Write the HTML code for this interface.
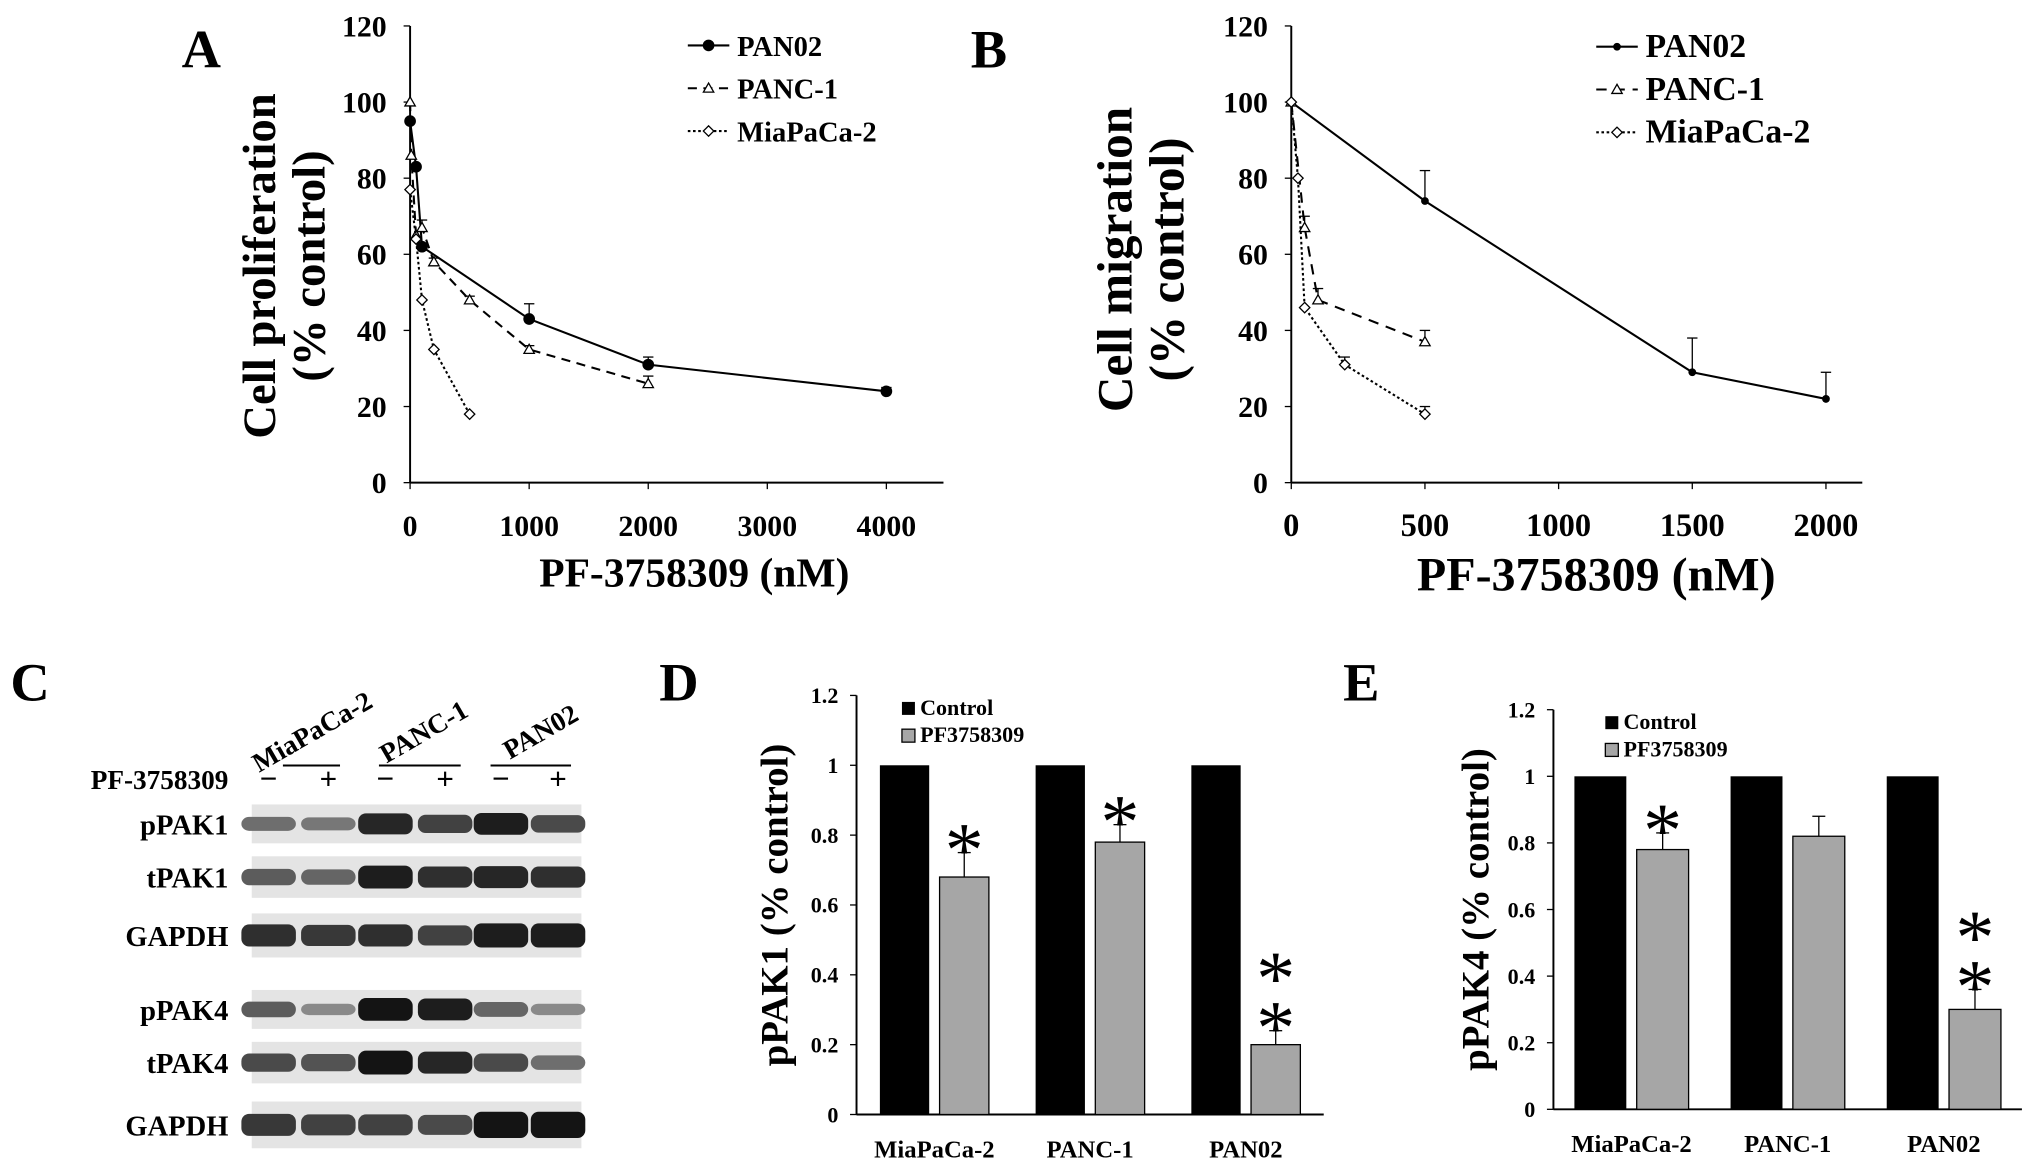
<!DOCTYPE html>
<html><head><meta charset="utf-8"><style>
html,body{margin:0;padding:0;background:#fff;}
svg{display:block;font-family:"Liberation Serif",serif;font-weight:bold;}
</style></head><body>
<svg id="fig" width="2031" height="1169" viewBox="0 0 1565 901" preserveAspectRatio="none" xmlns="http://www.w3.org/2000/svg">
<rect width="1565" height="901" fill="#fff"/>
<text x="140" y="52" font-size="42">A</text>
<text x="748" y="52" font-size="42">B</text>
<text x="8" y="540" font-size="42">C</text>
<text x="508" y="540" font-size="42">D</text>
<text x="1035" y="540" font-size="42">E</text>
<g id="gA"></g><g id="gB"></g><g id="gC"></g><g id="gD"></g><g id="gE"></g>
</svg>
<script>
// Panel A data
const aPan02X=[0,50,100,1000,2000,4000];
const aPan02Y=[95,83,62,43,31,24];
const aPan02E=[0,0,0,4,2,1];
const aPanc1X=[0,10,50,100,200,500,1000,2000];
const aPanc1Y=[100,86,65,67,58,48,35,26];
const aPanc1E=[0,0,0,2,1,1,1,2];
const aMiaX=[0,50,100,200,500];
const aMiaY=[77,64,48,35,18];
const aMiaE=[0,0,0,0,0];
const aXTicks=[0,1000,2000,3000,4000];
const yTicks=[0,20,40,60,80,100,120];
// Panel B data
const bPan02X=[0,500,1500,2000];
const bPan02Y=[100,74,29,22];
const bPan02E=[0,8,9,7];
const bPanc1X=[0,50,100,500];
const bPanc1Y=[100,67,48,37];
const bPanc1E=[0,3,3,3];
const bMiaX=[0,25,50,200,500];
const bMiaY=[100,80,46,31,18];
const bMiaE=[0,0,0,2,2];
const bXTicks=[0,500,1000,1500,2000];
// Panel D/E data
const barGroups=["MiaPaCa-2","PANC-1","PAN02"];
const dControl=[1,1,1];
const dTreated=[0.68,0.78,0.2];
const dErr=[0.07,0.05,0.04];
const dStars=[1,1,2];
const eControl=[1,1,1];
const eTreated=[0.78,0.82,0.3];
const eErr=[0.05,0.06,0.06];
const eStars=[1,0,2];
const barTicks=[0,0.2,0.4,0.6,0.8,1,1.2];

const NS="http://www.w3.org/2000/svg";
function mk(p,t,a,txt){const e=document.createElementNS(NS,t);for(const k in a)e.setAttribute(k,a[k]);if(txt!==undefined)e.textContent=txt;p.appendChild(e);return e;}

function lineChart(g,o){
  const sx=v=>o.x0+(v-0)/o.xmax*(o.x1-o.x0);
  const sy=v=>o.y0-v/120*(o.y0-o.y1);
  let ax=mk(g,'line',{x1:o.x0,y1:o.y0,x2:o.xend,y2:o.y0,stroke:'#000','stroke-width':1.5});
  
  ax=mk(g,'line',{x1:o.x0,y1:o.y0,x2:o.x0,y2:o.y1,stroke:'#000','stroke-width':1.5});
  
  yTicks.forEach(v=>{mk(g,'line',{x1:o.x0-5,x2:o.x0,y1:sy(v),y2:sy(v),stroke:'#000'});
    const t=mk(g,'text',{x:o.x0-18,y:sy(v)+8,'font-size':23,'text-anchor':'end'},v);
    });
  o.xt.forEach(v=>{mk(g,'line',{x1:sx(v),x2:sx(v),y1:o.y0,y2:o.y0+5,stroke:'#000'});
    const t=mk(g,'text',{x:sx(v),y:o.y0+41,'font-size':o.tfs,'text-anchor':'middle'},v);
    });
  let t=mk(g,'text',{x:o.xtc,y:o.xty,'font-size':o.xfs,'text-anchor':'middle'},'PF-3758309 (nM)');
  
  o.yt.forEach((s,i)=>{const tt=mk(g,'text',{transform:`translate(${o.ytx[i]},${o.yty}) rotate(-90)`,'font-size':o.yfs,'text-anchor':'middle'},s);
    });
  o.series.forEach((s,si)=>{
    const pts=s.x.map((v,i)=>sx(v)+','+sy(s.y[i])).join(' ');
    const pl=mk(g,'polyline',{points:pts,fill:'none',stroke:'#000','stroke-width':1.6,'stroke-dasharray':s.dash});
    
    s.x.forEach((v,i)=>{const cx=sx(v),cy=sy(s.y[i]);
      if(s.e[i]>0){mk(g,'line',{x1:cx,x2:cx,y1:cy,y2:sy(s.y[i]+s.e[i]),stroke:'#000'});mk(g,'line',{x1:cx-4,x2:cx+4,y1:sy(s.y[i]+s.e[i]),y2:sy(s.y[i]+s.e[i]),stroke:'#000'});}
      const m=marker(g,s.mk,cx,cy);});
    const ly=o.ly[si];
    mk(g,'line',{x1:o.lx,x2:o.lx+32,y1:ly,y2:ly,stroke:'#000','stroke-width':1.6,'stroke-dasharray':s.dash});
    marker(g,s.mk,o.lx+16,ly);
    const lt=mk(g,'text',{x:o.lx+38,y:ly+8,'font-size':o.lfs},s.name);
    
  });
}
function marker(g,m,x,y){
  if(m==='dot')return mk(g,'circle',{cx:x,cy:y,r:4.5,fill:'#000'});
  if(m==='sdot')return mk(g,'circle',{cx:x,cy:y,r:3,fill:'#000'});
  if(m==='tri')return mk(g,'polygon',{points:`${x},${y-4} ${x-4},${y+3} ${x+4},${y+3}`,fill:'#fff',stroke:'#000'});
  return mk(g,'polygon',{points:`${x},${y-4} ${x+4},${y} ${x},${y+4} ${x-4},${y}`,fill:'#fff',stroke:'#000'});
}
lineChart(document.getElementById('gA'),{x0:316,x1:683,xend:727,xmax:4000,y0:372,y1:20,xt:aXTicks,tfs:23,xtc:535,xty:452,xfs:32,
 yt:['Cell proliferation','(% control)'],ytx:[212,250],yty:205,yfs:36,lx:530,ly:[35,68,101],lfs:22,
 series:[{name:'PAN02',x:aPan02X,y:aPan02Y,e:aPan02E,dash:'',mk:'dot'},
 {name:'PANC-1',x:aPanc1X,y:aPanc1Y,e:aPanc1E,dash:'7,5',mk:'tri'},
 {name:'MiaPaCa-2',x:aMiaX,y:aMiaY,e:aMiaE,dash:'2,2',mk:'dia'}]});
lineChart(document.getElementById('gB'),{x0:995,x1:1407,xend:1435,xmax:2000,y0:372,y1:20,xt:bXTicks,tfs:25,xtc:1230,xty:455,xfs:37,
 yt:['Cell migration','(% control)'],ytx:[872,912],yty:200,yfs:38,lx:1230,ly:[36,69,102],lfs:26,
 series:[{name:'PAN02',x:bPan02X,y:bPan02Y,e:bPan02E,dash:'',mk:'sdot'},
 {name:'PANC-1',x:bPanc1X,y:bPanc1Y,e:bPanc1E,dash:'8,6',mk:'tri'},
 {name:'MiaPaCa-2',x:bMiaX,y:bMiaY,e:bMiaE,dash:'2,2',mk:'dia'}]});

// Panel C blot
(function(){
 const g=document.getElementById('gC');
 const rows=[['pPAK1',620,30,[0.5,0.45,0.9,0.75,0.95,0.7]],['tPAK1',660,32,[0.6,0.55,0.95,0.85,0.9,0.85]],['GAPDH',704,34,[0.85,0.8,0.85,0.75,0.95,0.95]],
  ['pPAK4',763,30,[0.6,0.35,1,0.95,0.55,0.35]],['tPAK4',803,32,[0.7,0.65,1,0.9,0.7,0.5]],['GAPDH',849,36,[0.8,0.75,0.75,0.7,1,1]]];
 const lanes=[207,253,297,343,386,430];
 rows.forEach(r=>{
  const box=mk(g,'rect',{x:194,y:r[1],width:254,height:r[2],fill:'#e4e4e4'});
  
  lanes.forEach((c,i)=>{const h=r[2]*0.45*r[3][i]+4;const v=Math.round(200-180*r[3][i]);
   mk(g,'rect',{x:c-21,y:r[1]+r[2]/2-h/2,width:42,height:h,rx:6,fill:`rgb(${v},${v},${v})`});});
  const t=mk(g,'text',{x:176,y:r[1]+r[2]/2+8,'font-size':22,'text-anchor':'end'},r[0]);
  
 });
 let t=mk(g,'text',{x:176,y:608,'font-size':21,'text-anchor':'end'},'PF-3758309');
 
 ['−','+','−','+','−','+'].forEach((s,i)=>mk(g,'text',{x:lanes[i],y:608,'font-size':24,'text-anchor':'middle'},s));
 [['MiaPaCa-2',244,218,262],['PANC-1',330,292,355],['PAN02',420,378,440]].forEach(c=>{
  const tt=mk(g,'text',{transform:`translate(${c[1]},570) rotate(-30)`,'font-size':21,'text-anchor':'middle'},c[0]);
  
  mk(g,'line',{x1:c[2],x2:c[3],y1:590,y2:590,stroke:'#000','stroke-width':1.5});});
})();

function barChart(g,o){
 const sy=v=>o.y0-v/1.2*(o.y0-o.y1);
 let a=mk(g,'line',{x1:o.x0,y1:o.y0,x2:o.xend,y2:o.y0,stroke:'#000','stroke-width':1.5});
 
 a=mk(g,'line',{x1:o.x0,y1:o.y0,x2:o.x0,y2:o.y1,stroke:'#000','stroke-width':1.5});
 
 barTicks.forEach(v=>{mk(g,'line',{x1:o.x0-5,x2:o.x0,y1:sy(v),y2:sy(v),stroke:'#000'});
  const t=mk(g,'text',{x:o.x0-14,y:sy(v)+6,'font-size':17,'text-anchor':'end'},v);
  });
 const gw=(o.xend-o.x0)/3;
 barGroups.forEach((n,i)=>{
  const gx=o.x0+gw*i+gw/2;
  const bw=o.bw;
  const c=mk(g,'rect',{x:gx-bw-4,y:sy(o.ctrl[i]),width:bw,height:o.y0-sy(o.ctrl[i]),fill:'#000'});
  
  const tx=gx+4;
  const b=mk(g,'rect',{x:tx,y:sy(o.tr[i]),width:bw,height:o.y0-sy(o.tr[i]),fill:'#a6a6a6',stroke:'#000'});
  
  const ey=sy(o.tr[i]+o.err[i]);
  mk(g,'line',{x1:tx+bw/2,x2:tx+bw/2,y1:sy(o.tr[i]),y2:ey,stroke:'#000'});
  mk(g,'line',{x1:tx+bw/2-5,x2:tx+bw/2+5,y1:ey,y2:ey,stroke:'#000'});
  for(let s=0;s<o.stars[i];s++){const st=mk(g,'text',{x:tx+bw/2,y:ey+18-(o.stars[i]-1-s)*38,'font-size':60,'font-weight':'normal','text-anchor':'middle'},'*');
   }
  const t=mk(g,'text',{x:gx,y:o.y0+33,'font-size':19,'text-anchor':'middle'},n);
  
 });
 const yt=mk(g,'text',{transform:`translate(${o.ytx},${(o.y0+o.y1)/2}) rotate(-90)`,'font-size':30,'text-anchor':'middle'},o.title);
 
 mk(g,'rect',{x:o.lx,y:o.ly-10,width:10,height:10,fill:'#000'});
 mk(g,'rect',{x:o.lx,y:o.ly+11,width:10,height:10,fill:'#a6a6a6',stroke:'#000'});
 let l=mk(g,'text',{x:o.lx+14,y:o.ly,'font-size':17},'Control');
 l=mk(g,'text',{x:o.lx+14,y:o.ly+21,'font-size':17},'PF3758309');
}
barChart(document.getElementById('gD'),{x0:660,xend:1020,y0:859,y1:536,bw:38,ctrl:dControl,tr:dTreated,err:dErr,stars:dStars,title:'pPAK1  (% control)',ytx:607,lx:695,ly:551});
barChart(document.getElementById('gE'),{x0:1197,xend:1558,y0:855,y1:547,bw:40,ctrl:eControl,tr:eTreated,err:eErr,stars:eStars,title:'pPAK4  (% control)',ytx:1147,lx:1237,ly:562});
</script>
</body></html>
